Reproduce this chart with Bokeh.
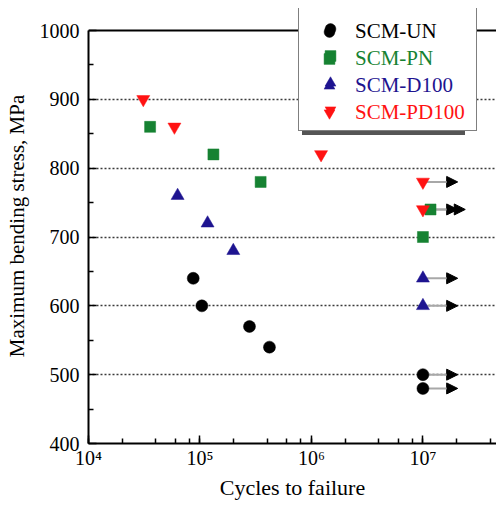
from bokeh.plotting import figure
from bokeh.models import (Range1d, FixedTicker, LogTicker, Span, Arrow, NormalHead,
                          ColumnDataSource, Legend, LegendItem)
from bokeh.embed import file_html
from bokeh.resources import INLINE

# ---------------- data ----------------
un_cycles = [8.7e4, 1.04e5, 2.78e5, 4.2e5, 1.0e7, 1.0e7]
un_stress = [640, 600, 570, 540, 500, 480]
un_runout = [False, False, False, False, True, True]

pn_cycles = [3.57e4, 1.32e5, 3.5e5, 1.0e7, 1.17e7]
pn_stress = [860, 820, 780, 700, 740]
pn_runout = [False, False, False, False, True]

d100_cycles = [6.3e4, 1.17e5, 1.99e5, 1.0e7, 1.0e7]
d100_stress = [760, 720, 680, 640, 600]
d100_runout = [False, False, False, True, True]

pd100_cycles = [3.1e4, 5.9e4, 1.22e6, 1.0e7, 1.0e7]
pd100_stress = [900, 860, 820, 780, 740]
pd100_runout = [False, False, False, True, True]

series_names = ["SCM-UN", "SCM-PN", "SCM-D100", "SCM-PD100"]
series_colors = ["#000000", "#168232", "#1e1490", "#ff1212"]
series_markers = ["circle", "square", "triangle", "inverted_triangle"]
series_sizes = [12, 11, 13, 13]

y_ticks = [400, 500, 600, 700, 800, 900, 1000]
x_tick_labels = {10**4: "10\u2074", 10**5: "10\u2075", 10**6: "10\u2076", 10**7: "10\u2077"}

x_title = "Cycles to failure"
y_title = "Maximum bending stress, MPa"

FONT = "Liberation Serif"
arrow_factor = 2.05

series = [
    (un_cycles, un_stress, un_runout),
    (pn_cycles, pn_stress, pn_runout),
    (d100_cycles, d100_stress, d100_runout),
    (pd100_cycles, pd100_stress, pd100_runout),
]

# ---------------- layout ----------------
FRAME_TOP = 8          # px from top of canvas
AXIS_TOP = 30          # px where the 1000 line sits
AXIS_BOTTOM = 443      # px where the 400 line sits
H = 505
y_lo, y_hi = y_ticks[0], y_ticks[-1]
px_per_unit = (AXIS_BOTTOM - AXIS_TOP) / (y_hi - y_lo)
y_end = y_hi + (AXIS_TOP - FRAME_TOP) / px_per_unit

p = figure(width=496, height=H, x_axis_type="log",
           x_range=Range1d(1e4, 10**7.66), y_range=Range1d(y_lo, y_end),
           output_backend="svg", toolbar_location=None,
           min_border_left=88, min_border_right=0, min_border_top=FRAME_TOP,
           min_border_bottom=H - AXIS_BOTTOM)
p.outline_line_color = None
p.background_fill_color = "white"
p.border_fill_color = "white"

# grid
p.xgrid.grid_line_color = None
p.ygrid.grid_line_color = "#3a3a3a"
p.ygrid.grid_line_dash = "2 2"
p.ygrid.grid_line_width = 1.6

# axes
y_minor = [(a + b) / 2 for a, b in zip(y_ticks[:-1], y_ticks[1:])]
p.yaxis.ticker = FixedTicker(ticks=y_ticks, minor_ticks=y_minor)
p.yaxis.bounds = (y_lo, y_hi)
p.ygrid.ticker = FixedTicker(ticks=y_ticks[1:-1])
p.xaxis.ticker = LogTicker()
p.xaxis.major_label_overrides = x_tick_labels

for ax in (p.xaxis, p.yaxis):
    ax.axis_line_width = 2
    ax.major_tick_in = 8
    ax.major_tick_out = 0
    ax.minor_tick_in = 5
    ax.minor_tick_out = 0
    ax.major_tick_line_width = 1.5
    ax.minor_tick_line_width = 1.5
    ax.major_label_text_font = FONT
    ax.major_label_text_font_size = "20px"
    ax.major_label_text_color = "black"
    ax.axis_label_text_font = FONT
    ax.axis_label_text_font_style = "normal"
    ax.axis_label_text_color = "black"

p.xaxis.axis_label_text_font_size = "22px"
p.yaxis.axis_label_text_font_size = "21px"
p.yaxis.major_label_standoff = 9
p.xaxis.major_label_standoff = 3
p.yaxis.axis_label_standoff = 8
p.xaxis.axis_label_standoff = 3
p.xaxis.axis_label = x_title
p.yaxis.axis_label = y_title

# top frame line
p.add_layout(Span(location=y_hi, dimension="width", line_color="black", line_width=2))

# run-out arrows
for (cyc, st, ro), col in zip(series, series_colors):
    xs = [c for c, r in zip(cyc, ro) if r]
    ys = [s for s, r in zip(st, ro) if r]
    if not xs:
        continue
    src = ColumnDataSource(dict(x0=xs, y0=ys, x1=[x * arrow_factor for x in xs], y1=ys))
    p.add_layout(Arrow(source=src, x_start="x0", y_start="y0", x_end="x1", y_end="y1",
                       end=NormalHead(size=11, fill_color="black", line_color="black", line_width=1),
                       line_color="#a8a8a8", line_width=2, level="underlay"))

# points
renderers = []
for (cyc, st, ro), col, mk, sz in zip(series, series_colors, series_markers, series_sizes):
    r = p.scatter(cyc, st, marker=mk, size=sz, fill_color=col, line_color=col, line_width=0.5)
    renderers.append(r)

# legend: shadow, frame, and coloured rows
common = dict(orientation="vertical", spacing=0, glyph_width=48, glyph_height=27,
              label_height=27, label_width=113, label_standoff=2, margin=0,
              label_text_font=FONT, label_text_font_size="21px")

shadow = Legend(items=[LegendItem(label=" ", renderers=[r]) for r in renderers],
                location=(214, 308), padding=7, border_line_color=None,
                background_fill_color="#555555", background_fill_alpha=1, **common)
frame = Legend(items=[LegendItem(label=" ", renderers=[r]) for r in renderers],
               location=(210, 312), padding=7, border_line_color="black", border_line_width=1.5,
               background_fill_color="white", background_fill_alpha=1, **common)
p.add_layout(shadow, "center")
p.add_layout(frame, "center")
for i, (name, col, r) in enumerate(zip(series_names, series_colors, renderers)):
    lg = Legend(items=[LegendItem(label=name, renderers=[r])],
                location=(217, 398 - 27 * i), padding=0, border_line_color=None,
                background_fill_alpha=0, label_text_color=col, **common)
    p.add_layout(lg, "center")

open("out.html", "w").write(file_html(p, INLINE))
